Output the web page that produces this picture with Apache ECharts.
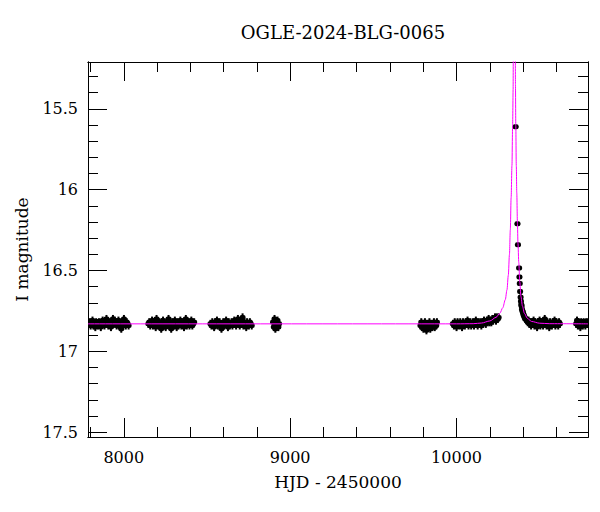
<!DOCTYPE html>
<html>
<head>
<meta charset="utf-8">
<script src="https://cdn.jsdelivr.net/npm/echarts@6/dist/echarts.min.js"></script>
<style>html,body{margin:0;padding:0;background:#fff}#c{width:600px;height:512px}</style>
</head>
<body>
<div id="c"></div>
<script>
// ---- data ----
const TITLE = 'OGLE-2024-BLG-0065';
const X_NAME = 'HJD - 2450000';
const Y_NAME = 'I magnitude';
const X_MIN = 7785, X_MAX = 10790;
const Y_MIN = 15.21, Y_MAX = 17.53;
const X_MAJOR = [8000, 9000, 10000];
const X_MINOR = [7800, 8200, 8400, 8600, 8800, 9200, 9400, 9600, 9800, 10200, 10400, 10600];
const Y_MAJOR = [15.5, 16, 16.5, 17, 17.5];
const Y_MINOR = [15.3, 15.4, 15.6, 15.7, 15.8, 15.9, 16.1, 16.2, 16.3, 16.4, 16.6, 16.7, 16.8, 16.9, 17.1, 17.2, 17.3, 17.4];
const ERR_BASE = 0.025;

// observations per season: [HJD-2450000, I mag, (optional) error]
const season1 = [[7790,16.83],[7796,16.82],[7801,16.84],[7807,16.83],[7812,16.81],[7818,16.84],[7823,16.83],[7829,16.85],[7834,16.82],[7840,16.83],[7845,16.84],[7851,16.82],[7857,16.83],[7862,16.85],[7868,16.82],[7873,16.81],[7879,16.83],[7884,16.84],[7890,16.82],[7896,16.80],[7901,16.83],[7907,16.84],[7912,16.82],[7918,16.83],[7923,16.85],[7929,16.82],[7935,16.80],[7940,16.83],[7946,16.81],[7951,16.82],[7957,16.84],[7962,16.83],[7968,16.81],[7974,16.82],[7979,16.85],[7985,16.86],[7990,16.83],[7996,16.82],[8001,16.80],[8007,16.83],[8012,16.84],[8018,16.82],[8023,16.83],[8029,16.84]];
const season2 = [[8148,16.83],[8153,16.82],[8159,16.84],[8164,16.83],[8170,16.81],[8175,16.84],[8181,16.82],[8186,16.83],[8192,16.85],[8197,16.80],[8203,16.83],[8208,16.84],[8214,16.82],[8219,16.83],[8225,16.86],[8230,16.82],[8236,16.81],[8241,16.84],[8247,16.83],[8252,16.85],[8258,16.82],[8263,16.83],[8269,16.80],[8274,16.84],[8280,16.83],[8285,16.86],[8291,16.82],[8296,16.83],[8302,16.84],[8307,16.81],[8313,16.83],[8318,16.85],[8324,16.82],[8329,16.84],[8335,16.83],[8340,16.81],[8346,16.84],[8351,16.82],[8357,16.83],[8362,16.85],[8368,16.82],[8373,16.80],[8379,16.84],[8384,16.83],[8390,16.82],[8395,16.84],[8401,16.83],[8406,16.81],[8412,16.84],[8417,16.83],[8423,16.82]];
const season3 = [[8521,16.83],[8527,16.84],[8532,16.82],[8538,16.83],[8543,16.85],[8549,16.82],[8554,16.83],[8560,16.81],[8565,16.84],[8571,16.83],[8576,16.82],[8582,16.84],[8587,16.86],[8593,16.83],[8598,16.82],[8604,16.84],[8609,16.83],[8615,16.81],[8620,16.83],[8626,16.85],[8631,16.82],[8637,16.84],[8642,16.83],[8648,16.82],[8653,16.84],[8659,16.83],[8664,16.81],[8670,16.83],[8675,16.84],[8681,16.82],[8686,16.80],[8692,16.83],[8697,16.84],[8703,16.82],[8708,16.83],[8714,16.79],[8719,16.84],[8725,16.82],[8730,16.83],[8736,16.85],[8741,16.82],[8747,16.83],[8752,16.84],[8758,16.82],[8763,16.83],[8769,16.84]];
const season4 = [[8897,16.82],[8902,16.85],[8906,16.80],[8911,16.86],[8915,16.82],[8920,16.84],[8924,16.81],[8929,16.85],[8933,16.83]];
const season5 = [[9783,16.84],[9788,16.82],[9792,16.85],[9797,16.83],[9801,16.86],[9806,16.84],[9810,16.82],[9815,16.85],[9819,16.87],[9824,16.83],[9828,16.85],[9833,16.84],[9837,16.82],[9842,16.86],[9846,16.84],[9851,16.83],[9855,16.85],[9860,16.84],[9864,16.82],[9869,16.85],[9873,16.83],[9878,16.84],[9882,16.82]];
const season6 = [[9978,16.83],[9984,16.84],[9989,16.82],[9995,16.83],[10000,16.85],[10006,16.82],[10011,16.83],[10017,16.84],[10022,16.82],[10028,16.83],[10033,16.85],[10039,16.82],[10044,16.83],[10050,16.84],[10055,16.82],[10061,16.83],[10066,16.81],[10072,16.84],[10077,16.83],[10083,16.82],[10088,16.84],[10094,16.83],[10099,16.82],[10105,16.84],[10110,16.83],[10116,16.81],[10121,16.83],[10127,16.84],[10132,16.82],[10138,16.83],[10143,16.82],[10149,16.84],[10154,16.82],[10160,16.83],[10165,16.81],[10171,16.82],[10176,16.83],[10182,16.81],[10187,16.82],[10193,16.80],[10198,16.82],[10204,16.81],[10209,16.82],[10215,16.80],[10220,16.81],[10226,16.80],[10231,16.79],[10237,16.81],[10242,16.79],[10248,16.80],[10253,16.79]];
const season7 = [[10355,15.61,0.008],[10366,16.21,0.01],[10369,16.34,0.01],[10376,16.485,0.012],[10378,16.54,0.012],[10380,16.58,0.014],[10382,16.63,0.015],[10385,16.665],[10387,16.69],[10389,16.71],[10391,16.72],[10393,16.74],[10396,16.75],[10399,16.76],[10402,16.77],[10405,16.78],[10409,16.79],[10413,16.80],[10418,16.80],[10423,16.81],[10428,16.82],[10433,16.81],[10438,16.83],[10443,16.82],[10448,16.84],[10453,16.82],[10458,16.83],[10463,16.81],[10468,16.84],[10473,16.82],[10478,16.83],[10484,16.85],[10489,16.82],[10494,16.83],[10499,16.81],[10504,16.84],[10509,16.82],[10515,16.83],[10520,16.84],[10525,16.82],[10530,16.80],[10536,16.83],[10541,16.84],[10546,16.82],[10551,16.83],[10557,16.85],[10562,16.82],[10568,16.83],[10573,16.84],[10578,16.82],[10584,16.83],[10589,16.81],[10594,16.84],[10600,16.82],[10605,16.83],[10611,16.84],[10616,16.82],[10621,16.83]];
const season8 = [[10719,16.83],[10724,16.81],[10729,16.84],[10734,16.82],[10739,16.83],[10744,16.85],[10749,16.82],[10754,16.83],[10759,16.84],[10764,16.82],[10769,16.83],[10774,16.84],[10779,16.82],[10784,16.83],[10789,16.82]];

// microlensing model curve
const modelT   = [7785, 10000, 10100, 10150, 10200, 10237, 10260, 10278, 10293, 10303, 10311, 10318, 10323, 10328, 10333, 10337, 10340, 10341, 10345, 10347, 10349, 10353, 10354, 10356, 10359, 10362, 10366, 10369, 10374, 10380, 10387, 10396, 10408, 10425, 10450, 10500, 10560, 10790];
const modelMag = [16.83, 16.83, 16.829, 16.825, 16.812, 16.79, 16.765, 16.73, 16.68, 16.62, 16.53, 16.40, 16.25, 16.05, 15.85, 15.60, 15.38, 15.17, 14.95, 14.90, 14.95, 15.15, 15.35, 15.60, 15.85, 16.02, 16.21, 16.33, 16.45, 16.57, 16.66, 16.72, 16.765, 16.795, 16.815, 16.826, 16.829, 16.83];

// ---- build ----
const obs = [].concat(season1, season2, season3, season4, season5, season6, season7, season8)
  .map(d => [d[0], d[1], d.length > 2 ? d[2] : ERR_BASE]);
const model = modelT.map((t, i) => [t, modelMag[i]]);

const FONT = 'DejaVu Serif';
const black = '#000';

function xAxisDef(pos, values, len, labels, name) {
  return {
    type: 'value', position: pos, min: X_MIN, max: X_MAX,
    axisLine: { show: true, onZero: false, lineStyle: { color: black, width: 1 } },
    splitLine: { show: false },
    axisTick: { show: true, inside: true, length: len, customValues: values, lineStyle: { color: black, width: 1 } },
    axisLabel: labels ? { show: true, customValues: values, color: black, fontFamily: FONT, fontSize: 16, margin: 12,
      formatter: v => String(Math.round(v)) } : { show: false },
    name: name || '', nameLocation: 'middle', nameGap: 36,
    nameTextStyle: { color: black, fontFamily: FONT, fontSize: 17 }
  };
}
function yAxisDef(pos, values, len, labels, name) {
  return {
    type: 'value', position: pos, min: Y_MIN, max: Y_MAX, inverse: true,
    axisLine: { show: true, onZero: false, lineStyle: { color: black, width: 1 } },
    splitLine: { show: false },
    axisTick: { show: true, inside: true, length: len, customValues: values, lineStyle: { color: black, width: 1 } },
    axisLabel: labels ? { show: true, customValues: values, color: black, fontFamily: FONT, fontSize: 16, margin: 10,
      formatter: v => String(+v.toFixed(1)) } : { show: false },
    name: name || '', nameLocation: 'middle', nameGap: 58, nameRotate: 90,
    nameTextStyle: { color: black, fontFamily: FONT, fontSize: 17 }
  };
}

const chart = echarts.init(document.getElementById('c'), null, { renderer: 'svg', width: 600, height: 512 });
chart.setOption({
  backgroundColor: '#fff',
  animation: false,
  title: { text: TITLE, left: 338, top: 18, textAlign: 'center',
    textStyle: { color: black, fontFamily: FONT, fontSize: 18, fontWeight: 'normal' } },
  grid: { left: 88, right: 12, top: 62, bottom: 75, containLabel: false },
  xAxis: [
    xAxisDef('bottom', X_MAJOR, 19, true, X_NAME),
    xAxisDef('bottom', X_MINOR, 10, false),
    xAxisDef('top', X_MAJOR, 19, false),
    xAxisDef('top', X_MINOR, 10, false)
  ],
  yAxis: [
    yAxisDef('left', Y_MAJOR, 19, true, Y_NAME),
    yAxisDef('left', Y_MINOR, 10, false),
    yAxisDef('right', Y_MAJOR, 19, false),
    yAxisDef('right', Y_MINOR, 10, false)
  ],
  series: [
    {
      type: 'custom', xAxisIndex: 0, yAxisIndex: 0, z: 2, clip: true,
      data: obs,
      encode: { x: 0, y: 1 },
      renderItem: function (params, api) {
        const t = api.value(0), m = api.value(1), e = api.value(2);
        const p = api.coord([t, m]);
        const a = api.coord([t, m - e]);
        const b = api.coord([t, m + e]);
        return { type: 'group', children: [
          { type: 'line', shape: { x1: p[0], y1: a[1], x2: p[0], y2: b[1] }, style: { stroke: black, lineWidth: 2 } },
          { type: 'rect', shape: { x: p[0] - 3, y: p[1] - 2.5, width: 6, height: 5, r: 2 }, style: { fill: black } }
        ] };
      }
    },
    {
      type: 'line', xAxisIndex: 0, yAxisIndex: 0, z: 5, clip: true,
      data: model, showSymbol: false, smooth: 0.3, smoothMonotone: 'x',
      lineStyle: { color: '#ff00ff', width: 1 }
    }
  ]
});
</script>
</body>
</html>
